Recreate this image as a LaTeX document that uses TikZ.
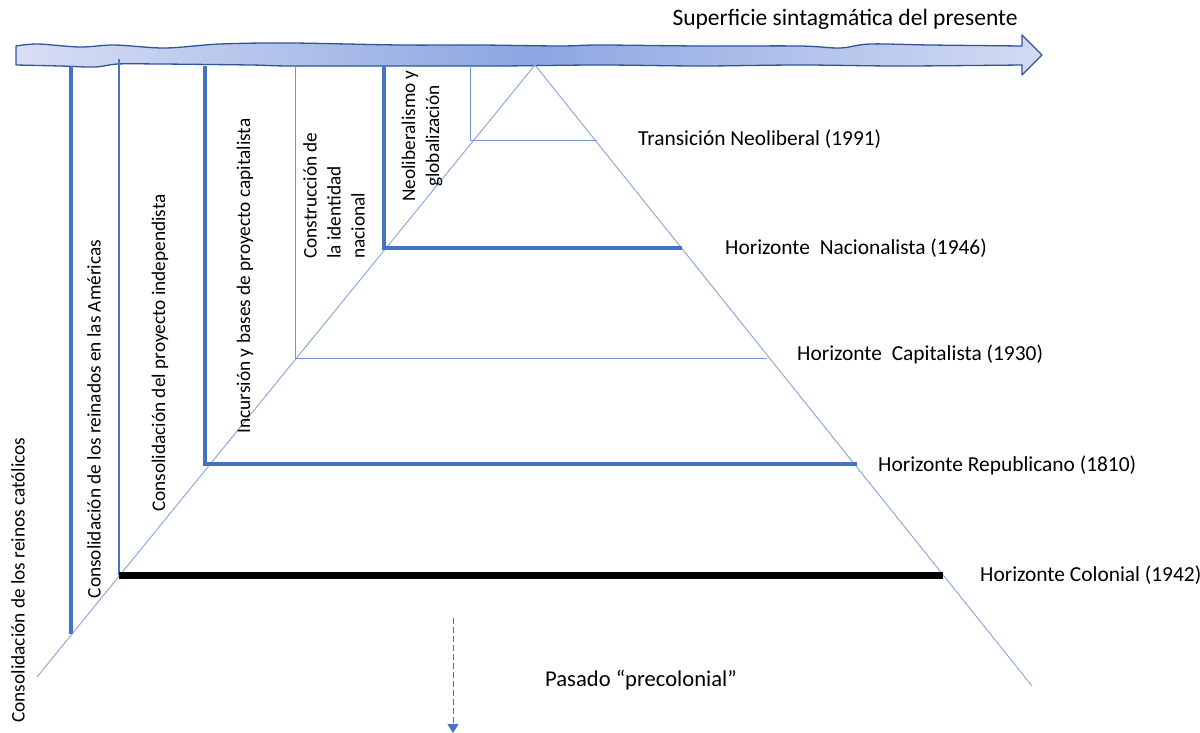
\documentclass[tikz,border=0pt]{standalone}
\usepackage{fontspec}
\setmainfont{Carlito}
\usetikzlibrary{arrows.meta}
\definecolor{accent}{HTML}{4472C4}
\definecolor{pale}{HTML}{8FAADC}
\definecolor{rim}{HTML}{2F5597}
\definecolor{bandlight}{HTML}{D8DFF4}
\definecolor{banddark}{HTML}{8CA6E2}
\definecolor{bandend}{HTML}{D3DBF3}
\begin{document}
\begin{tikzpicture}[x=1pt,y=-1pt,
  lbl/.style={font=\fontsize{21.4}{25}\selectfont, text=black, inner sep=0pt},
  vlbl/.style={font=\fontsize{19.3}{24}\selectfont, text=black, inner sep=0pt, rotate=90},
  edge/.style={draw=pale, line width=1pt},
  thinrule/.style={draw=accent!75!white, line width=1pt},
  midrule/.style={draw=accent, line width=2.6pt},
  boldrule/.style={draw=accent, line width=4pt, line join=miter},
  blackrule/.style={draw=black, line width=7pt},
  pastarrow/.style={draw=accent, line width=1pt, dash pattern=on 6pt off 3pt,
    -{Triangle[length=9pt,width=11pt]}}]
\useasboundingbox (0,0) rectangle (1200,733);

% the time band along the top, drawn as a hand-made wavy arrow
\path[left color=bandlight, right color=bandend, middle color=banddark,
      draw=rim, line width=1.3pt, line join=round]
  plot[smooth, tension=0.55] coordinates {(16,46) (38,44) (80,47) (115,45) (165,48)
     (220,44) (290,43) (400,45) (480,45) (560,46) (600,45) (700,46) (800,46)
     (840,48) (870,44) (930,45) (1022,46)}
  -- (1022,35) -- (1042,55) -- (1022,75) -- (1022,65)
  -- plot[smooth, tension=0.55] coordinates {(1022,65) (900,66) (800,65) (700,66)
     (600,65) (500,66) (400,66) (290,66) (250,65) (160,64) (118,64) (95,67)
     (60,66) (16,65)}
  -- cycle;

% the triangle of horizons
\coordinate (apex) at (535,65);
\coordinate (lfoot) at (37,677);
\coordinate (rfoot) at (1032,686);
\draw[edge] (lfoot) -- (apex) -- (rfoot);

% epoch columns and horizon rules
\coordinate (c1top) at (71,66);   \coordinate (c1bot) at (71,634);
\coordinate (c2top) at (119,59);  \coordinate (c2bot) at (119,575);
\coordinate (c3top) at (205,66);  \coordinate (c3end) at (857,464);
\coordinate (c4top) at (295,66);  \coordinate (c4bot) at (295,358);
\coordinate (c5top) at (384,66);  \coordinate (c5end) at (682,248);
\coordinate (c6top) at (470,66);  \coordinate (c6bot) at (470,141);
\coordinate (capR) at (767,358);
\coordinate (neoR) at (597,141);
\coordinate (colL) at (119,575);  \coordinate (colR) at (943,575);

\draw[boldrule] (c1top) -- (c1bot);
\draw[midrule] (c2top) -- (c2bot);
\draw[boldrule] (c3top) |- (c3end);
\draw[thinrule] (c4top) |- (capR);
\draw[boldrule] (c5top) |- (c5end);
\draw[thinrule] (c6top) |- (neoR);
\draw[blackrule] (colL) -- (colR);

% band title
\node[lbl, font=\fontsize{23.5}{28}\selectfont] (superficie) at (845,19)
  {Superficie sintagmática del presente};

% horizon labels
\node[lbl, anchor=west] (hneo) at (638,139) {Transición Neoliberal (1991)};
\node[lbl, anchor=west] (hnac) at (725,248) {Horizonte\ \ Nacionalista (1946)};
\node[lbl, anchor=west] (hcap) at (797,354) {Horizonte\ \ Capitalista (1930)};
\node[lbl, anchor=west] (hrep) at (878,465) {Horizonte Republicano (1810)};
\node[lbl, anchor=west] (hcol) at (980,575) {Horizonte Colonial (1942)};

% epoch labels
\node[vlbl] (reinos) at (18,580) {Consolidación de los reinos católicos};
\node[vlbl] (americas) at (94,419) {Consolidación de los reinados en las Américas};
\node[vlbl] (indep) at (160,353) {Consolidación del proyecto independista};
\node[vlbl] (incursion) at (245,276) {Incursión y bases de proyecto capitalista};
\node[vlbl, align=left, anchor=north west] (identidad) at (303,259)
  {Construcción de\\la identidad\\nacional};
\node[vlbl, align=center] (neoliberal) at (422,136) {Neoliberalismo y\\globalización};

% the past below
\node[lbl, font=\fontsize{22.6}{27}\selectfont, anchor=west] (pasado) at (545,680)
  {Pasado “precolonial”};
\coordinate (pastTop) at (453,618);
\coordinate (pastTip) at (453,733);
\draw[pastarrow] (pastTop) -- (pastTip);
\end{tikzpicture}
\end{document}
